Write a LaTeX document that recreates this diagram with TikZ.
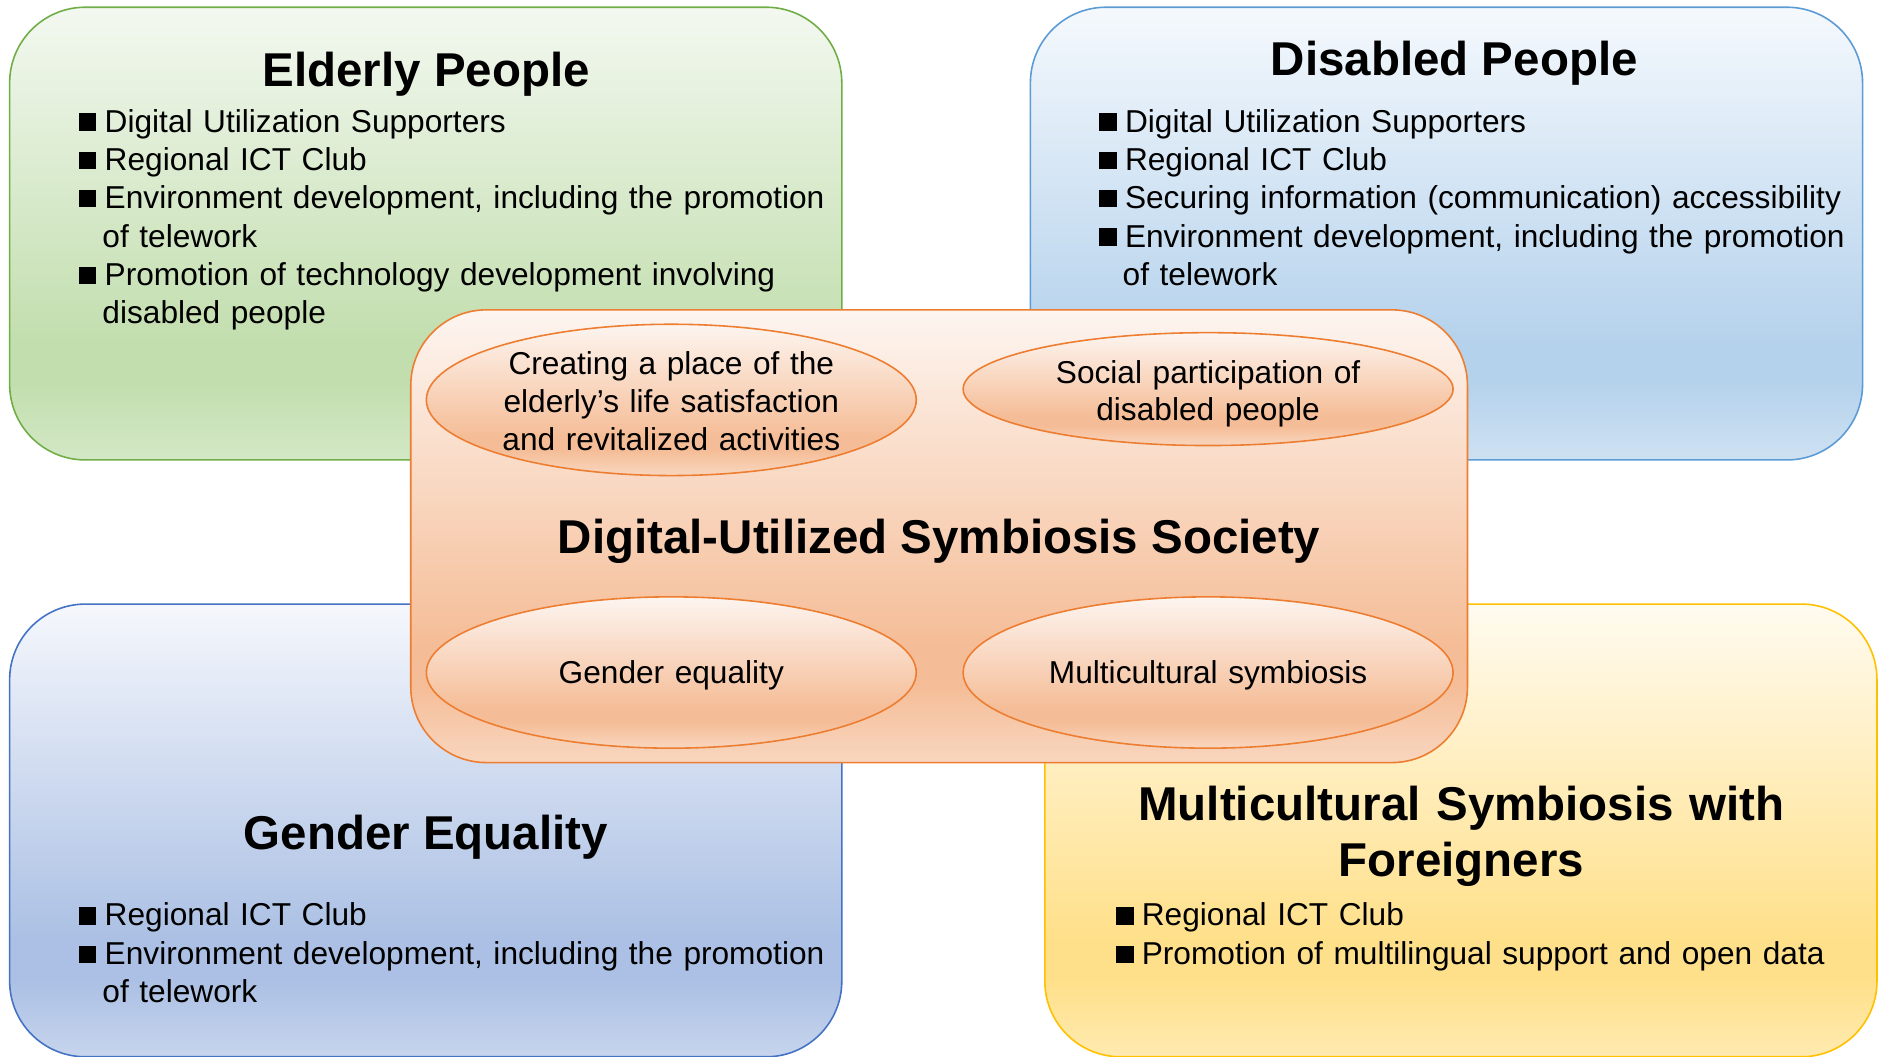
\documentclass[tikz,border=0pt]{standalone}
\usepackage{fontspec}
\setmainfont{Liberation Sans}
\usetikzlibrary{shapes.geometric,positioning}

\definecolor{grnT}{HTML}{F3F8F0}
\definecolor{grnM}{HTML}{C2DEAE}
\definecolor{grnB}{HTML}{D3E8C6}
\definecolor{bluT}{HTML}{F5F9FD}
\definecolor{bluM}{HTML}{B5D2EC}
\definecolor{bluB}{HTML}{CEE1F2}
\definecolor{lavT}{HTML}{F5F7FC}
\definecolor{lavM}{HTML}{ABC0E4}
\definecolor{lavB}{HTML}{C7D5ED}
\definecolor{ylwT}{HTML}{FFFBF0}
\definecolor{ylwM}{HTML}{FFE08A}
\definecolor{ylwB}{HTML}{FFEAB0}
\definecolor{orgT}{HTML}{FDF5F0}
\definecolor{orgM}{HTML}{F5BD97}
\definecolor{orgB}{HTML}{F8D6BF}
\definecolor{grnline}{HTML}{70AD47}
\definecolor{bluline}{HTML}{5B9BD5}
\definecolor{lavline}{HTML}{4472C4}
\definecolor{ylwline}{HTML}{FFC000}
\definecolor{orgline}{HTML}{ED7D31}

\newcommand\lightgrad[4]{%
  \pgfdeclareverticalshading{#1}{100bp}{color(0bp)=(#4); color(25bp)=(#4);
    color(33.5bp)=(#3); color(38bp)=(#3); color(75bp)=(#2); color(100bp)=(#2)}}
\lightgrad{grnsh}{grnT}{grnM}{grnB}
\lightgrad{blush}{bluT}{bluM}{bluB}
\lightgrad{lavsh}{lavT}{lavM}{lavB}
\lightgrad{ylwsh}{ylwT}{ylwM}{ylwB}
\lightgrad{orgsh}{orgT}{orgM}{orgB}

\newcommand\sqb{\makebox[14.7pt][l]{\rule[0.8pt]{10pt}{9.8pt}}}
\newcommand\ind{\hspace*{13.4pt}}

\begin{document}
\begin{tikzpicture}[x=0.024cm,y=-0.024cm,
    quad/.style={shape=rectangle,rounded corners=1.512cm,minimum width=16.632cm,
      minimum height=9.048cm,inner sep=0pt,line width=0.9pt,shade},
    oval/.style={shape=ellipse,minimum width=9.792cm,inner sep=0pt,
      draw=orgline,line width=0.9pt,shade,shading=orgsh},
    ttl/.style={inner sep=0pt,font=\bfseries\fontsize{27}{32}\selectfont},
    lst/.style={inner sep=0pt,text width=16cm,align=left,
      font=\fontsize{18}{21.8}\selectfont},
    otxt/.style={inner sep=0pt,text width=9cm,align=center,
      font=\fontsize{18}{21.5}\selectfont}]
  \useasboundingbox (0,0) rectangle (1568,880);

  % four themes
  \node[quad,draw=grnline,shading=grnsh] (b_eld) at (354.5,194.5) {};
  \node[quad,draw=bluline,shading=blush] (b_dis) at (1204.5,194.5) {};
  \node[quad,draw=lavline,shading=lavsh] (b_gen) at (354.5,691.5) {};
  \node[quad,draw=ylwline,shading=ylwsh] (b_mul) at (1216.5,691.5) {};

  \node[ttl,anchor=base] (t_eld) at (355,72) {Elderly People};
  \node[lst,anchor=base west] (l_eld) at (65.4,110) {\sqb Digital Utilization Supporters\\
    \sqb Regional ICT Club\\
    \sqb Environment development, including the promotion\\
    \ind of telework\\
    \sqb Promotion of technology development involving\\
    \ind disabled people};

  \node[ttl,anchor=base] (t_dis) at (1211,63) {Disabled People};
  \node[lst,anchor=base west] (l_dis) at (915,110) {\sqb Digital Utilization Supporters\\
    \sqb Regional ICT Club\\
    \sqb Securing information (communication) accessibility\\
    \sqb Environment development, including the promotion\\
    \ind of telework};

  \node[ttl,anchor=base] (t_gen) at (354.5,707) {Gender Equality};
  \node[lst,anchor=base west] (l_gen) at (65.4,771) {\sqb Regional ICT Club\\
    \sqb Environment development, including the promotion\\
    \ind of telework};

  \node[ttl,anchor=base,text width=16cm,align=center] (t_mul) at (1217,683)
    {Multicultural Symbiosis with\\ Foreigners};
  \node[lst,anchor=base west] (l_mul) at (929,771) {\sqb Regional ICT Club\\
    \sqb Promotion of multilingual support and open data};

  % the society in the middle
  \node[quad,minimum width=21.12cm,draw=orgline,shading=orgsh] (b_ctr) at (782,446.5) {};
  \node[ttl,anchor=base] (t_ctr) at (782,461) {Digital-Utilized Symbiosis Society};

  \node[oval,minimum height=3.024cm] (o_1) at (559,333) {};
  \node[oval,minimum height=2.256cm] (o_2) at (1006,324) {};
  \node[oval,minimum height=3.024cm] (o_3) at (559,560) {};
  \node[oval,minimum height=3.024cm] (o_4) at (1006,560) {};

  \node[otxt,anchor=base] (x_1) at (559,312) {Creating a place of the\\
    elderly’s life satisfaction\\ and revitalized activities};
  \node[otxt,anchor=base] (x_2) at (1006,319) {Social participation of\\ disabled people};
  \node[otxt,anchor=base] (x_3) at (559,569.5) {Gender equality};
  \node[otxt,anchor=base] (x_4) at (1006,569.5) {Multicultural symbiosis};
\end{tikzpicture}
\end{document}
